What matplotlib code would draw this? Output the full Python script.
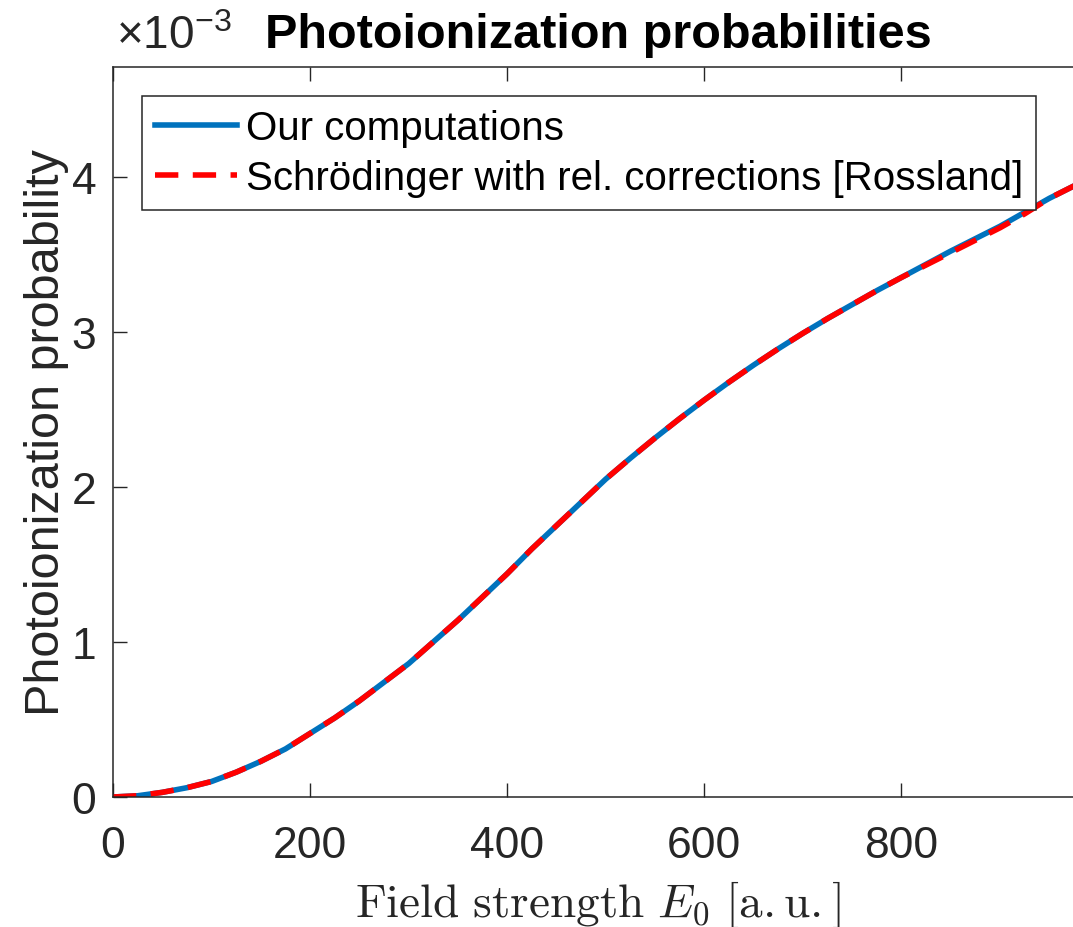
import numpy as np
import matplotlib.pyplot as plt
from matplotlib.ticker import ScalarFormatter

plt.rcParams['font.family'] = ['Liberation Sans', 'DejaVu Sans']
plt.rcParams['mathtext.fontset'] = 'custom'
plt.rcParams['mathtext.rm'] = 'Liberation Sans'
plt.rcParams['mathtext.it'] = 'Liberation Sans:italic'
plt.rcParams['mathtext.bf'] = 'Liberation Sans:bold'
plt.rcParams['axes.unicode_minus'] = False

# field strength E0 [a.u.] and photoionization probability (units of 1e-3)
field = [0, 25, 50, 75, 100, 125, 150, 175, 200, 225, 250, 275, 300, 325,
         350, 375, 400, 425, 450, 475, 500, 525, 550, 575, 600, 625, 650,
         675, 700, 725, 750, 775, 800, 825, 850, 875, 900, 925, 950, 975, 1000]
ours_1e3 = [0.0, 0.008, 0.03, 0.06, 0.10, 0.16, 0.23, 0.31, 0.41, 0.51,
            0.62, 0.74, 0.86, 1.00, 1.14, 1.29, 1.44, 1.60, 1.75, 1.90,
            2.05, 2.185, 2.315, 2.44, 2.56, 2.675, 2.785, 2.89, 2.99, 3.085,
            3.175, 3.265, 3.35, 3.435, 3.52, 3.60, 3.68, 3.77, 3.86, 3.94, 4.02]
rossland_1e3 = [0.0, 0.008, 0.03, 0.06, 0.10, 0.16, 0.23, 0.31, 0.41, 0.51,
                0.62, 0.74, 0.86, 1.00, 1.14, 1.29, 1.44, 1.60, 1.75, 1.90,
                2.05, 2.185, 2.315, 2.44, 2.56, 2.675, 2.785, 2.89, 2.99, 3.085,
                3.175, 3.265, 3.35, 3.43, 3.51, 3.59, 3.67, 3.76, 3.86, 3.94, 4.02]

xticks = [0, 200, 400, 600, 800]
yticks = [0, 1e-3, 2e-3, 3e-3, 4e-3]
exponent = -3

ours = np.array(ours_1e3) * 1e-3
rossland = np.array(rossland_1e3) * 1e-3

ax_col = '0.15'
fig = plt.figure(figsize=(10.73, 9.28), dpi=100)
ax = fig.add_axes([113/1073, 130/928, 970.8/1073, 730.5/928])

ax.plot(field, ours, color='#0072BD', lw=4, label='Our computations')
ax.plot(field, rossland, color='red', lw=4, ls=(0, (4.2, 2.6)),
        label='Schrödinger with rel. corrections [Rossland]')

ax.set_xlim(0, 985)
ax.set_ylim(0, 4.71e-3)
ax.set_xticks(xticks)
ax.set_yticks(yticks)

# fixed 1e-3 scaling on y, exponent drawn above the top-left corner
fmt = ScalarFormatter()
fmt.set_powerlimits((exponent, exponent))
ax.yaxis.set_major_formatter(fmt)
ax.yaxis.get_offset_text().set_visible(False)
ax.text(0.003, 1.012, r'$\times10^{%d}$' % exponent, transform=ax.transAxes,
        ha='left', va='bottom', fontsize=33, color=ax_col)

ax.tick_params(direction='in', length=10, width=1, colors=ax_col,
               labelsize=32, top=True, right=False)
ax.tick_params(axis='x', pad=20)
ax.tick_params(axis='y', pad=12)
for s in ax.spines.values():
    s.set_color(ax_col)
    s.set_linewidth(1.1)

ax.set_ylabel('Photoionization probability', fontsize=35, color=ax_col,
              labelpad=2)
ax.set_xlabel(r'$\mathrm{Field\ strength}\ E_0\ \mathrm{[a.u.]}$',
              fontsize=34, color=ax_col, math_fontfamily='cm', labelpad=9)
ax.set_title('Photoionization probabilities', fontsize=35, fontweight='bold',
             pad=14)

leg = ax.legend(loc='upper left', bbox_to_anchor=(29/970.8, 0.9596),
                borderaxespad=0, fontsize=29, handlelength=2.05,
                handletextpad=0.2, borderpad=0.32, labelspacing=0.3,
                fancybox=False, framealpha=1, edgecolor=ax_col)
leg.get_frame().set_linewidth(1.1)

fig.savefig('out.png', dpi=100)
